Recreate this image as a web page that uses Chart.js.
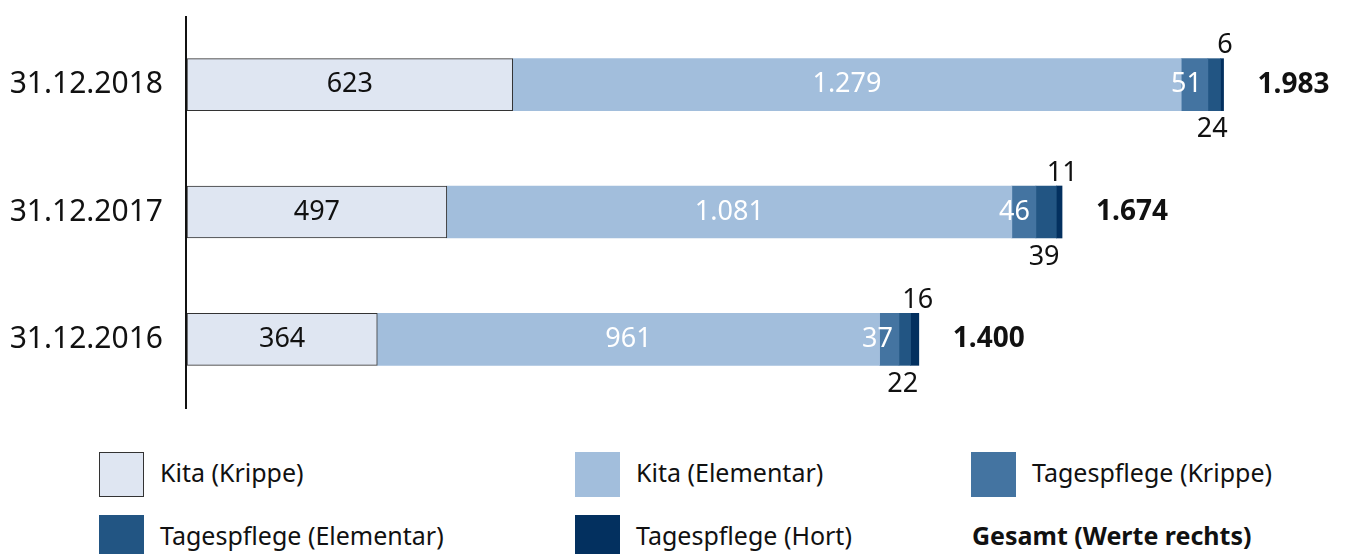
<!DOCTYPE html>
<html lang="de">
<head>
<meta charset="utf-8">
<title>Betreuungsplätze</title>
<script src="https://cdn.jsdelivr.net/npm/chart.js@4/dist/chart.umd.min.js"></script>
<style>
  html, body { margin: 0; padding: 0; background: #fff; }
  body { width: 1347px; height: 554px; position: relative; overflow: hidden; font-family: "Noto Sans", sans-serif; color: #111; }
  #wrap { position: absolute; left: 0; top: 0; width: 1347px; height: 440px; }
  .lg { position: absolute; height: 45px; display: flex; align-items: center; font-size: 25px; white-space: nowrap; }
  .lg .box { width: 45px; height: 45px; box-sizing: border-box; margin-right: 16px; flex: none; }
  .lg .txt { position: relative; top: -3px; }
  .lg.total { font-weight: bold; }
</style>
</head>
<body>
<div id="wrap"><canvas id="chart"></canvas></div>
<div id="legend"></div>
<script>
// Werte aus der Grafik
const categories = ['31.12.2018', '31.12.2017', '31.12.2016'];
const kitaKrippe = [623, 497, 364];
const kitaElementar = [1279, 1081, 961];
const tagespflegeKrippe = [51, 46, 37];
const tagespflegeElementar = [24, 39, 22];
const tagespflegeHort = [6, 11, 16];
const gesamt = [1983, 1674, 1400];

const seriesLabels = ['Kita (Krippe)', 'Kita (Elementar)', 'Tagespflege (Krippe)', 'Tagespflege (Elementar)', 'Tagespflege (Hort)'];
const totalLabel = 'Gesamt (Werte rechts)';

const colors = ['#dfe6f2', '#a2bedc', '#4474a1', '#225583', '#03305f'];
const FONT = '"Noto Sans", sans-serif';

// 1.983 statt 1,983
const fmt = v => String(v).replace(/\B(?=(\d{3})+(?!\d))/g, '.');

// where each series puts its value label
const labelMode = ['center', 'center', 'insideEnd', 'below', 'above'];
const labelColor = ['#111', '#fff', '#fff', '#111', '#111'];

const datasets = [kitaKrippe, kitaElementar, tagespflegeKrippe, tagespflegeElementar, tagespflegeHort].map((d, i) => ({
    label: seriesLabels[i],
    data: d,
    backgroundColor: colors[i],
    borderColor: i === 0 ? '#333' : colors[i],
    borderWidth: i === 0 ? 1 : 0,
    borderSkipped: false,
    barThickness: 52
}));

const valueLabels = {
    id: 'valueLabels',
    afterDatasetsDraw(chart) {
        const ctx = chart.ctx;
        ctx.save();
        ctx.textBaseline = 'middle';
        chart.data.datasets.forEach((ds, di) => {
            const meta = chart.getDatasetMeta(di);
            meta.data.forEach((bar, i) => {
                const v = ds.data[i];
                const left = bar.base, right = bar.x;
                const top = bar.y - bar.height / 2, bottom = bar.y + bar.height / 2;
                ctx.font = '27px ' + FONT;
                ctx.fillStyle = labelColor[di];
                const mode = labelMode[di];
                if (mode === 'center') {
                    ctx.textAlign = 'center';
                    ctx.fillText(fmt(v), (left + right) / 2, bar.y);
                } else if (mode === 'insideEnd') {
                    ctx.textAlign = 'right';
                    ctx.fillText(fmt(v), right - 6, bar.y);
                } else if (mode === 'below') {
                    ctx.textAlign = 'center';
                    ctx.fillText(fmt(v), (left + right) / 2 - 2, bottom + 19);
                } else {
                    ctx.textAlign = 'center';
                    ctx.fillText(fmt(v), (left + right) / 2 + 3, top - 13);
                }
            });
        });
        // Gesamtwerte rechts neben dem Balken
        const lastMeta = chart.getDatasetMeta(chart.data.datasets.length - 1);
        ctx.font = 'bold 28px ' + FONT;
        ctx.fillStyle = '#111';
        ctx.textAlign = 'left';
        lastMeta.data.forEach((bar, i) => {
            ctx.fillText(fmt(gesamt[i]), bar.x + 34, bar.y);
        });
        ctx.restore();
    }
};

// vertical axis line, a bit longer than the plot area
const axisLine = {
    id: 'axisLine',
    afterDatasetsDraw(chart) {
        const ctx = chart.ctx;
        ctx.save();
        ctx.strokeStyle = '#111';
        ctx.lineWidth = 2;
        ctx.beginPath();
        ctx.moveTo(186, 16);
        ctx.lineTo(186, 409);
        ctx.stroke();
        ctx.restore();
    }
};

new Chart(document.getElementById('chart'), {
    type: 'bar',
    data: { labels: categories, datasets: datasets },
    options: {
        indexAxis: 'y',
        responsive: true,
        maintainAspectRatio: false,
        animation: false,
        layout: { padding: { top: 21, bottom: 37, left: 0, right: 10 } },
        scales: {
            x: { stacked: true, display: false, min: 0, max: 2200 },
            y: {
                stacked: true,
                grid: { display: false, drawTicks: false },
                border: { display: false },
                ticks: { color: '#111', font: { family: FONT, size: 30 }, padding: 24 },
                afterFit(scale) {
                    scale.width = 187;
                    scale.paddingTop = 0;
                    scale.paddingBottom = 0;
                }
            }
        },
        plugins: {
            legend: { display: false },
            tooltip: { enabled: false }
        }
    },
    plugins: [valueLabels, axisLine]
});

// Legende unten, drei Spalten
const colX = [99, 575, 971];
const rowY = [452, 515];
const legend = document.getElementById('legend');
datasets.forEach((ds, i) => {
    const el = document.createElement('div');
    el.className = 'lg';
    el.style.left = colX[i % 3] + 'px';
    el.style.top = rowY[Math.floor(i / 3)] + 'px';
    const border = i === 0 ? '1px solid #333' : 'none';
    el.innerHTML = '<span class="box" style="background:' + ds.backgroundColor + ';border:' + border + '"></span><span class="txt">' + ds.label + '</span>';
    legend.appendChild(el);
});
const tot = document.createElement('div');
tot.className = 'lg total';
tot.style.left = (colX[2] + 1) + 'px';
tot.style.top = rowY[1] + 'px';
tot.innerHTML = '<span class="txt">' + totalLabel + '</span>';
legend.appendChild(tot);
</script>
</body>
</html>
